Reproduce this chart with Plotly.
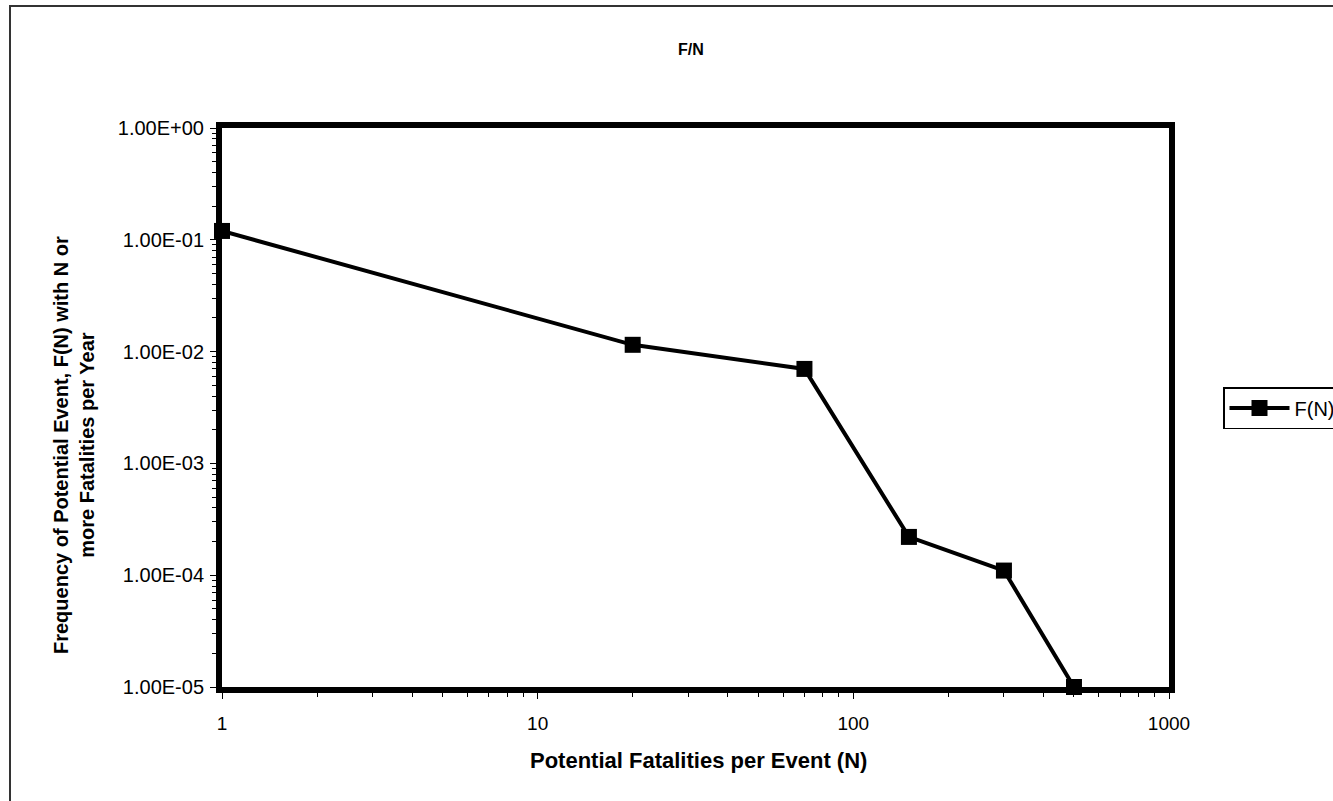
import plotly.graph_objects as go

# Data
n_values = [1, 20, 70, 150, 300, 500]
f_values = [0.12, 0.0115, 0.0070, 2.2e-4, 1.1e-4, 1.0e-5]
series_name = "F(N)"

x_tickvals = [1, 10, 100, 1000]
x_ticktext = ["1", "10", "100", "1000"]
y_tickvals = [1, 1e-1, 1e-2, 1e-3, 1e-4, 1e-5]
y_ticktext = ["1.00E+00", "1.00E-01", "1.00E-02", "1.00E-03", "1.00E-04", "1.00E-05"]

title_text = "F/N"
x_title = "Potential Fatalities per Event (N)"
y_title = "Frequency of Potential Event, F(N) with N or<br>more Fatalities per Year"

FONT = "Liberation Sans, Arial, sans-serif"

# Page is a little wider than the 1333px window, so the legend is cut at the
# right edge just like in the reference.
W, H = 1360, 801
L, R, T, B = 222, 1169, 128, 687
pw, ph = R - L, B - T

def px_x(p):
    return (p - L) / pw

def px_y(p):
    return (B - p) / ph

fig = go.Figure()
fig.add_trace(go.Scatter(
    x=n_values, y=f_values, name=series_name, mode="lines+markers",
    line=dict(color="black", width=4),
    marker=dict(symbol="square", size=16, color="black"),
    cliponaxis=False,
))

axis_common = dict(
    showline=True, linecolor="black", linewidth=6, mirror=True,
    showgrid=False, zeroline=False,
    ticks="outside", ticklen=6, tickwidth=1, tickcolor="black",
    minor=dict(ticks="outside", ticklen=4, tickwidth=1, tickcolor="black", showgrid=False, dtick="D1"),
)

fig.update_xaxes(type="log", range=[0, 3], tickmode="array",
                 tickvals=x_tickvals, ticktext=x_ticktext,
                 tickfont=dict(family=FONT, size=19, color="black"),
                 ticklabelstandoff=8, **axis_common)
fig.update_yaxes(type="log", range=[-5, 0], tickmode="array",
                 tickvals=y_tickvals, ticktext=y_ticktext,
                 tickfont=dict(family=FONT, size=20, color="black"),
                 ticklabelstandoff=2, **axis_common)

fig.update_layout(
    width=W, height=H,
    margin=dict(l=L, r=W - R, t=T, b=H - B, pad=0),
    paper_bgcolor="white", plot_bgcolor="white",
    showlegend=True,
    legend=dict(x=px_x(1223), y=px_y(387), xanchor="left", yanchor="top",
                bordercolor="black", borderwidth=1.5, bgcolor="white",
                itemwidth=60,
                font=dict(family=FONT, size=20, color="black")),
    annotations=[
        dict(text="<b>" + title_text + "</b>", xref="paper", yref="paper",
             x=px_x(691), y=px_y(50), xanchor="center", yanchor="middle",
             showarrow=False, font=dict(family=FONT, size=16, color="black")),
        dict(text="<b>" + x_title + "</b>", xref="paper", yref="paper",
             x=px_x(698), y=px_y(760), xanchor="center", yanchor="middle",
             showarrow=False, font=dict(family=FONT, size=22, color="black")),
        dict(text="<b>" + y_title + "</b>", xref="paper", yref="paper",
             x=px_x(74), y=px_y(445), xanchor="center", yanchor="middle",
             textangle=-90, showarrow=False,
             font=dict(family=FONT, size=20, color="black")),
    ],
    shapes=[
        dict(type="rect", xref="paper", yref="paper",
             x0=px_x(10), x1=px_x(1380), y0=px_y(820), y1=px_y(6),
             line=dict(color="#333333", width=2), fillcolor="rgba(0,0,0,0)", layer="below"),
    ],
)

fig.write_html(
    "out.html",
    config={"displayModeBar": False},
    post_script="document.body.style.margin='0';document.body.style.overflow='hidden';",
)
